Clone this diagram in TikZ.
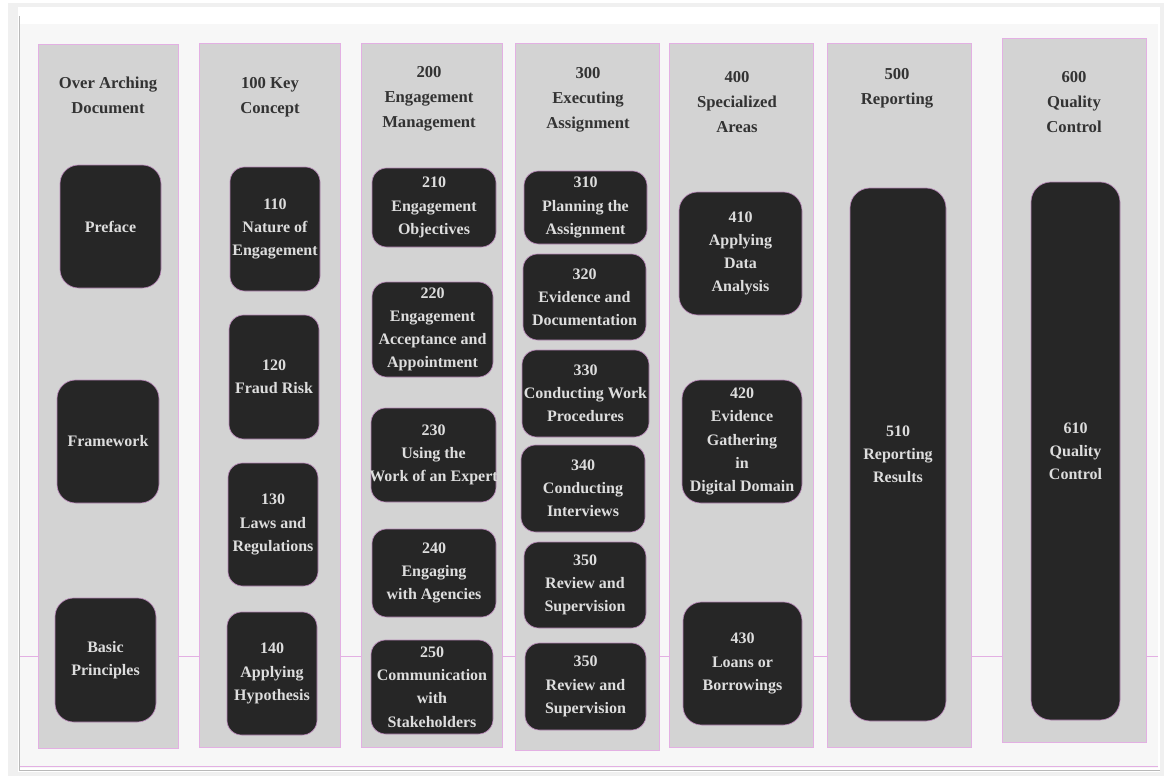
\documentclass[tikz,border=0pt]{standalone}
\usepackage{fontspec}
\setmainfont{Liberation Serif}
\usetikzlibrary{positioning}
\definecolor{panelgray}{HTML}{F7F7F7}
\definecolor{colgray}{HTML}{D3D3D3}
\definecolor{cardblack}{HTML}{262626}
\definecolor{pinkline}{HTML}{E3B0E3}
\definecolor{cardedge}{HTML}{B888B8}
\definecolor{cardfont}{HTML}{DDDDDD}
\definecolor{headfont}{HTML}{333333}
\begin{document}
\begin{tikzpicture}[x=0.75pt,y=-0.75pt,
			wh/.style 2 args={minimum width=#1*0.75pt, minimum height=#2*0.75pt},
			column/.style={fill=colgray, draw=pinkline, line width=0.6pt, inner sep=0pt},
			heading/.style={align=center, text=headfont, inner sep=0pt, font=\bfseries\fontsize{12.5}{18.6}\selectfont},
			cardtext/.style={align=center, text=cardfont, inner sep=0pt, font=\bfseries\fontsize{12}{17.4}\selectfont},
			card/.style={fill=cardblack, draw=cardedge, line width=0.5pt, inner sep=0pt, rounded corners=11pt,
				label={[cardtext]center:{#1}}},
			tallcard/.style={card={#1}, rounded corners=15pt}
			]
			\useasboundingbox (0,0) rectangle (1164,778);
			\fill[white] (0,0) rectangle (1164,778);
			\fill[gray!12] (8,3) rectangle (1164,776);
			\fill[white] (18,7) rectangle (1160,772);
			\fill[panelgray] (20,24) rectangle (1158,768);
			\draw[gray!55, line width=1.2pt] (19.5,16) -- (19.5,770.5) -- (1160,770.5);
			\draw[pinkline] (20,766) -- (1158,766);
			\draw[pinkline] (20,656) -- (1158,656);
			
			\node[column, wh={140}{704}] (col0) at (108,396) {};
			\node[column, wh={141}{704}] (col1) at (269.5,395) {};
			\node[column, wh={141}{704}] (col2) at (431.5,395) {};
			\node[column, wh={144}{707}] (col3) at (587,396.5) {};
			\node[column, wh={144}{704}] (col4) at (741,395) {};
			\node[column, wh={144}{704}] (col5) at (899,395) {};
			\node[column, wh={144}{704}] (col6) at (1074,390) {};
			
			\node[heading] (h0) at (108,95) {Over Arching\\Document};
			\node[heading] (h1) at (270,97) {100 Key\\Concept};
			\node[heading] (h2) at (429,99) {200\\Engagement\\Management};
			\node[heading] (h3) at (588,100) {300\\Executing\\Assignment};
			\node[heading] (h4) at (737,102) {400\\Specialized\\Areas};
			\node[heading] (h5) at (897,88) {500\\Reporting};
			\node[heading] (h6) at (1074,102) {600\\Quality\\Control};
			
			\node[card={Preface}, wh={101}{123}, rounded corners=14pt] (pre) at (110.5,226.5) {};
			\node[card={Framework}, wh={102}{123}, rounded corners=14pt] (fw) at (108,441.5) {};
			\node[card={Basic\\Principles}, wh={101}{124}, rounded corners=14pt] (bp) at (105.5,660) {};
			
			\node[card={110\\Nature of\\Engagement}, wh={90}{124}] (k110) at (275,229) {};
			\node[card={120\\Fraud Risk}, wh={90}{124}] (k120) at (274,377) {};
			\node[card={130\\Laws and\\Regulations}, wh={90}{123}] (k130) at (273,524.5) {};
			\node[card={140\\Applying\\Hypothesis}, wh={90}{123}] (k140) at (272,673.5) {};
			
			\node[card={210\\Engagement\\Objectives}, wh={124}{79}] (e210) at (434,207.5) {};
			\node[card={220\\Engagement\\Acceptance and\\Appointment}, wh={121}{95}] (e220) at (432.5,329.5) {};
			\node[card={230\\Using the\\Work of an Expert}, wh={125}{94}] (e230) at (433.5,455) {};
			\node[card={240\\Engaging\\with Agencies}, wh={124}{88}] (e240) at (434,573) {};
			\node[card={250\\Communication\\with\\Stakeholders}, wh={122}{94}] (e250) at (432,687) {};
			
			\node[card={310\\Planning the\\Assignment}, wh={123}{73}] (x310) at (585.5,207.5) {};
			\node[card={320\\Evidence and\\Documentation}, wh={123}{86}] (x320) at (584.5,297) {};
			\node[card={330\\Conducting Work\\Procedures}, wh={127}{87}] (x330) at (585.5,393.5) {};
			\node[card={340\\Conducting\\Interviews}, wh={124}{87}] (x340) at (583,488.5) {};
			\node[card={350\\Review and\\Supervision}, wh={122}{86}] (x350a) at (585,585) {};
			\node[card={350\\Review and\\Supervision}, wh={121}{87}] (x350b) at (585.5,686.5) {};
			
			\node[card={410\\Applying\\Data\\Analysis}, wh={123}{123}, rounded corners=14pt] (s410) at (740.5,253.5) {};
			\node[card={420\\Evidence\\Gathering\\in\\Digital Domain}, wh={120}{123}, rounded corners=14pt] (s420) at (742,441.5) {};
			\node[card={430\\Loans or\\Borrowings}, wh={119}{123}, rounded corners=14pt] (s430) at (742.5,663.5) {};
			
			\node[tallcard={510\\Reporting\\Results}, wh={96}{533}] (r510) at (898,454.5) {};
			\node[tallcard={610\\Quality\\Control}, wh={89}{538}] (q610) at (1075.5,451) {};
		\end{tikzpicture}
\end{document}
